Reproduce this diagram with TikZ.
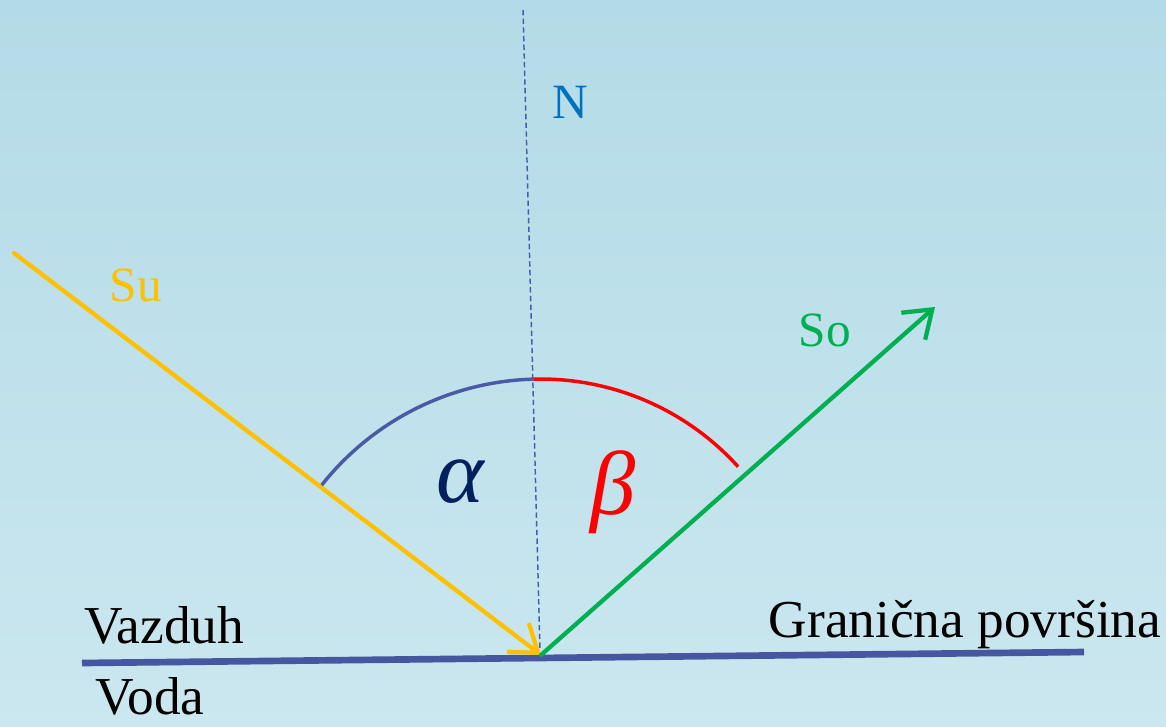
\documentclass[tikz,border=0pt]{standalone}
\usepackage{fontspec}
\setmainfont{Liberation Serif}
\usetikzlibrary{arrows.meta}
\definecolor{bgtop}{HTML}{B3DBE7}
\definecolor{bgbot}{HTML}{CBE7EF}
\definecolor{zraka}{HTML}{FFC000}
\definecolor{odbij}{HTML}{00B050}
\definecolor{povrs}{HTML}{4656A0}
\definecolor{normala}{HTML}{3F5FAF}
\definecolor{luk}{HTML}{4A5AA5}
\definecolor{ntext}{HTML}{0070C0}
\definecolor{alfa}{HTML}{002060}
\begin{document}
\begin{tikzpicture}[x=0.75pt, y=0.75pt,
   every node/.style={font=\fontsize{37}{44}\selectfont, inner sep=0pt},
   ray/.style={line width=3.2pt, line cap=round,
     -{Straight Barb[length=19pt, width=27pt, line width=3.2pt]}},
   anglearc/.style={line width=2.6pt}]
\shade[top color=bgtop, bottom color=bgbot] (0,0) rectangle (1166,-726);
\useasboundingbox (0,0) rectangle (1166,-726);
\coordinate (O) at (541,-655);
\coordinate (sl) at (82,-663);
\coordinate (sr) at (1084,-652);
\coordinate (ntop) at (523,-10);
\coordinate (nbot) at (540,-650);
\coordinate (sustart) at (14,-253);
\coordinate (soend) at (935,-307);
\draw[normala, line width=1.1pt, dash pattern=on 4pt off 2.5pt] (ntop) -- (nbot);
\draw[povrs, line width=5pt] (sl) -- (sr);
\draw[ray, zraka] (sustart) -- (O);
\draw[ray, odbij] (O) -- (soend);
\draw[anglearc, luk] (O) ++(91.6:276) arc[start angle=91.6, end angle=141.6, radius=280];
\draw[anglearc, red] (O) ++(91.6:276) arc[start angle=91.6, end angle=42.1, radius=266];
\node[text=ntext] (N) at (570,-102) {N};
\node[text=zraka] (Su) at (136,-285) {Su};
\node[text=odbij] (So) at (825,-330) {So};
\node[font=\fontsize{40}{46}\selectfont] (vazduh) at (164,-625) {Vazduh};
\node[font=\fontsize{40}{46}\selectfont] (voda) at (150,-696) {Voda};
\node[font=\fontsize{40}{46}\selectfont] (granica) at (965,-625) {Granična površina};
\node[text=alfa, font=\fontsize{68}{72}\selectfont\itshape] (a) at (460,-482) {α};
\node[text=red, font=\fontsize{68}{72}\selectfont\itshape] (b) at (613,-492) {β};
\end{tikzpicture}
\end{document}
